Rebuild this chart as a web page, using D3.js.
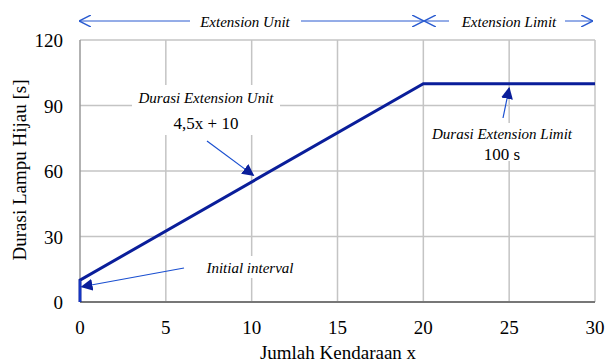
<!DOCTYPE html>
<html>
<head>
<meta charset="utf-8">
<script src="https://cdn.jsdelivr.net/npm/d3@7"></script>
<style>
  body { margin: 0; background: white; }
</style>
</head>
<body>
<svg width="607" height="362" font-family="'Liberation Serif', 'Times New Roman', serif"></svg>
<script>
// data
var xTicks = [0, 5, 10, 15, 20, 25, 30];
var yTicks = [0, 30, 60, 90, 120];
var lineX = [0, 0, 20, 30];
var lineY = [0, 10, 100, 100];

var svg = d3.select("svg");
var x = d3.scaleLinear().domain([0, 30]).range([80, 595]);
var y = d3.scaleLinear().domain([0, 120]).range([302, 40]);

// grid
svg.selectAll(".vg").data(xTicks.slice(1)).enter().append("line")
  .attr("x1", d => x(d)).attr("x2", d => x(d))
  .attr("y1", y(120)).attr("y2", y(0))
  .attr("stroke", "#c4c4c4").attr("stroke-width", 1.5);
svg.selectAll(".hg").data(yTicks.slice(1)).enter().append("line")
  .attr("x1", x(0)).attr("x2", x(30))
  .attr("y1", d => y(d)).attr("y2", d => y(d))
  .attr("stroke", "#c4c4c4").attr("stroke-width", 1.5);

// axes
svg.append("line").attr("x1", x(0)).attr("x2", x(0)).attr("y1", y(120)).attr("y2", y(0))
  .attr("stroke", "#999").attr("stroke-width", 1.5);
svg.append("line").attr("x1", x(0)).attr("x2", x(30)).attr("y1", y(0)).attr("y2", y(0))
  .attr("stroke", "#777").attr("stroke-width", 2);

svg.selectAll(".xt").data(xTicks).enter().append("text")
  .attr("x", d => x(d)).attr("y", 334)
  .attr("text-anchor", "middle").attr("font-size", 19).text(d => d);
svg.selectAll(".yt").data(yTicks).enter().append("text")
  .attr("x", 63).attr("y", d => y(d) + 7)
  .attr("text-anchor", "end").attr("font-size", 19).text(d => d);

svg.append("text").attr("x", 338).attr("y", 359).attr("text-anchor", "middle")
  .attr("font-size", 19).text("Jumlah Kendaraan x");
svg.append("text").attr("transform", "translate(26,170) rotate(-90)")
  .attr("text-anchor", "middle").attr("font-size", 19).text("Durasi Lampu Hijau [s]");

// markers
var defs = svg.append("defs");
defs.append("marker").attr("id", "ah").attr("viewBox", "0 0 10 10")
  .attr("refX", 9).attr("refY", 5).attr("markerWidth", 12).attr("markerHeight", 12)
  .attr("markerUnits", "userSpaceOnUse").attr("orient", "auto")
  .append("path").attr("d", "M0,0 L10,5 L0,10 Z").attr("fill", "#0a1e9a");
defs.append("marker").attr("id", "oa").attr("viewBox", "0 0 10 10")
  .attr("refX", 10).attr("refY", 5).attr("markerWidth", 12).attr("markerHeight", 12)
  .attr("markerUnits", "userSpaceOnUse").attr("orient", "auto-start-reverse")
  .append("path").attr("d", "M0,0 L10,5 L0,10").attr("fill", "none")
  .attr("stroke", "#2a5bd0").attr("stroke-width", 1.2);

// main line
var pts = lineX.map((d, i) => [x(d), y(lineY[i])]);
svg.append("path").attr("d", d3.line()(pts)).attr("fill", "none")
  .attr("stroke", "#0a1e9a").attr("stroke-width", 3);
svg.append("line").attr("x1", x(0)).attr("x2", x(0)).attr("y1", y(0)).attr("y2", y(10))
  .attr("stroke", "#1a3fd0").attr("stroke-width", 1.5);

// top range arrows
function hArrow(x1, x2, start, end) {
  var l = svg.append("line").attr("x1", x1).attr("x2", x2).attr("y1", 21).attr("y2", 21)
    .attr("stroke", "#2a5bd0").attr("stroke-width", 1);
  if (start) l.attr("marker-start", "url(#oa)");
  if (end) l.attr("marker-end", "url(#oa)");
}
hArrow(79, 190, true, false);
hArrow(301, 424, false, true);
hArrow(424, 449, true, false);
hArrow(565, 593, false, true);
svg.append("text").attr("x", 245).attr("y", 27).attr("text-anchor", "middle")
  .attr("font-size", 15).attr("font-style", "italic").text("Extension Unit");
svg.append("text").attr("x", 509).attr("y", 27).attr("text-anchor", "middle")
  .attr("font-size", 15).attr("font-style", "italic").text("Extension Limit");

// annotations
function note(x1, y1, x2, y2) {
  svg.append("line").attr("x1", x1).attr("y1", y1).attr("x2", x2).attr("y2", y2)
    .attr("stroke", "#1a4fd0").attr("stroke-width", 1.2).attr("marker-end", "url(#ah)");
}
svg.append("rect").attr("x", 132).attr("y", 85).attr("width", 148).attr("height", 50).attr("fill", "white");
svg.append("text").attr("x", 206).attr("y", 103).attr("text-anchor", "middle")
  .attr("font-size", 15).attr("font-style", "italic").text("Durasi Extension Unit");
svg.append("text").attr("x", 206).attr("y", 129).attr("text-anchor", "middle")
  .attr("font-size", 17).text("4,5x + 10");
note(207, 141, x(10.1), y(58));

svg.append("rect").attr("x", 428).attr("y", 123).attr("width", 150).attr("height", 38).attr("fill", "white");
svg.append("text").attr("x", 502).attr("y", 139).attr("text-anchor", "middle")
  .attr("font-size", 15).attr("font-style", "italic").text("Durasi Extension Limit");
svg.append("text").attr("x", 502).attr("y", 160).attr("text-anchor", "middle")
  .attr("font-size", 17).text("100 s");
note(503, 118, x(25), y(98));

svg.append("rect").attr("x", 196).attr("y", 256).attr("width", 108).attr("height", 22).attr("fill", "white");
svg.append("text").attr("x", 250).attr("y", 273).attr("text-anchor", "middle")
  .attr("font-size", 15).attr("font-style", "italic").text("Initial interval");
note(184, 268, x(0.1), y(7));
</script>
</body>
</html>
